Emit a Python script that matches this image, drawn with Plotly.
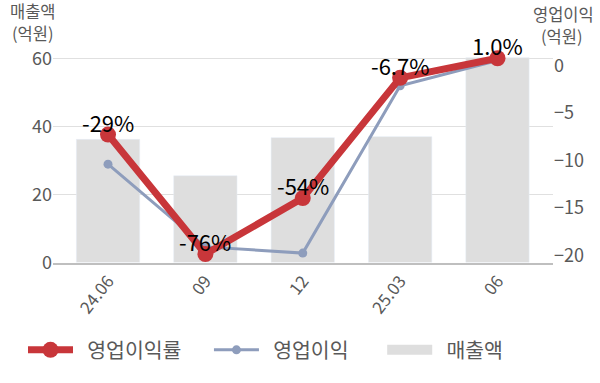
import plotly.graph_objects as go

categories = ["24.06", "09", "12", "25.03", "06"]
sales = [36.2, 25.5, 36.7, 37.0, 60.2]            # 매출액 (억원)
op_income = [-10.4, -19.1, -19.75, -2.15, 0.5]     # 영업이익 (억원)
op_margin = [-29, -76, -54, -6.7, 1.0]             # 영업이익률 (%)
margin_labels = ["-29%", "-76%", "-54%", "-6.7%", "1.0%"]
left_ticks = [0, 20, 40, 60]
right_ticks = [0, -5, -10, -15, -20]

FONT = "Noto Sans CJK KR"
RED = "#c8363a"
BLUE = "#8e9dbc"
BAR = "#dedede"
TICK = "#595959"
PRE = "\u00a0" * 2
SUF_RED = "\u00a0" * 4 + "\u2009"
SUF_BLUE = "\u00a0" * 4 + "\u2002"

fig = go.Figure()
fig.add_trace(go.Bar(
    x=categories, y=sales, name="매출액", marker_color=BAR, width=0.65,
    yaxis="y", showlegend=False,
))
fig.add_trace(go.Scatter(
    x=categories, y=op_income, name=PRE + "영업이익" + SUF_BLUE, mode="lines+markers",
    line=dict(color=BLUE, width=3), marker=dict(color=BLUE, size=9),
    yaxis="y2", legendrank=2,
))
fig.add_trace(go.Scatter(
    x=categories, y=op_margin, name=PRE + "영업이익률" + SUF_RED, mode="lines+markers",
    line=dict(color=RED, width=7), marker=dict(color=RED, size=16),
    yaxis="y3", legendrank=1, cliponaxis=False,
))
# legend entry for the bars (wide swatch like the reference)
fig.add_trace(go.Scatter(
    x=[None], y=[None], name=PRE + "매출액", mode="lines",
    line=dict(color=BAR, width=14), yaxis="y", legendrank=3,
))

for i, (v, t) in enumerate(zip(op_margin, margin_labels)):
    fig.add_annotation(x=i, y=v, xref="x", yref="y3", text=t, showarrow=False,
                       yanchor="middle", yshift=13,
                       font=dict(family=FONT, size=22, color="#000000"))

def title(px, py, text):
    fig.add_annotation(x=(px - 53) / 500, y=(268 - py) / 218, xref="paper", yref="paper",
                       xanchor="center", yanchor="middle", showarrow=False,
                       text=text, font=dict(family=FONT, size=16.5, color=TICK))

title(33, 10, "매출액")
title(33, 33, "(억원)")
title(563, 13, "영업이익")
title(562, 36, "(억원)")

fig.update_layout(
    width=600, height=383,
    margin=dict(l=53, r=47, t=50, b=115),
    paper_bgcolor="white", plot_bgcolor="white",
    font=dict(family=FONT, size=18, color=TICK),
    xaxis=dict(type="category", range=[-0.565, 4.57], tickangle=-52, showline=True,
               linecolor="#bfbfbf", linewidth=1.5, ticks="", showgrid=False,
               tickfont=dict(size=17, color=TICK)),
    yaxis=dict(range=[0, 62.46], tickvals=left_ticks, showgrid=True,
               gridcolor="#e0e0e0", gridwidth=1, zeroline=False, ticks="",
               tickfont=dict(size=18, color=TICK)),
    yaxis2=dict(range=[-20.75, 1.61], tickvals=right_ticks, overlaying="y",
                side="right", showgrid=False, zeroline=False, ticks="",
                tickfont=dict(size=18, color=TICK)),
    yaxis3=dict(range=[-79.34, 4.24], overlaying="y", showticklabels=False,
                showgrid=False, zeroline=False, showline=False, ticks=""),
    legend=dict(orientation="h", x=23 / 600, xanchor="left", xref="container",
                y=33 / 383, yanchor="middle", yref="container",
                itemwidth=45, font=dict(size=20.5, color=TICK),
                traceorder="normal"),
    showlegend=True,
)

fig.write_html("out.html")
